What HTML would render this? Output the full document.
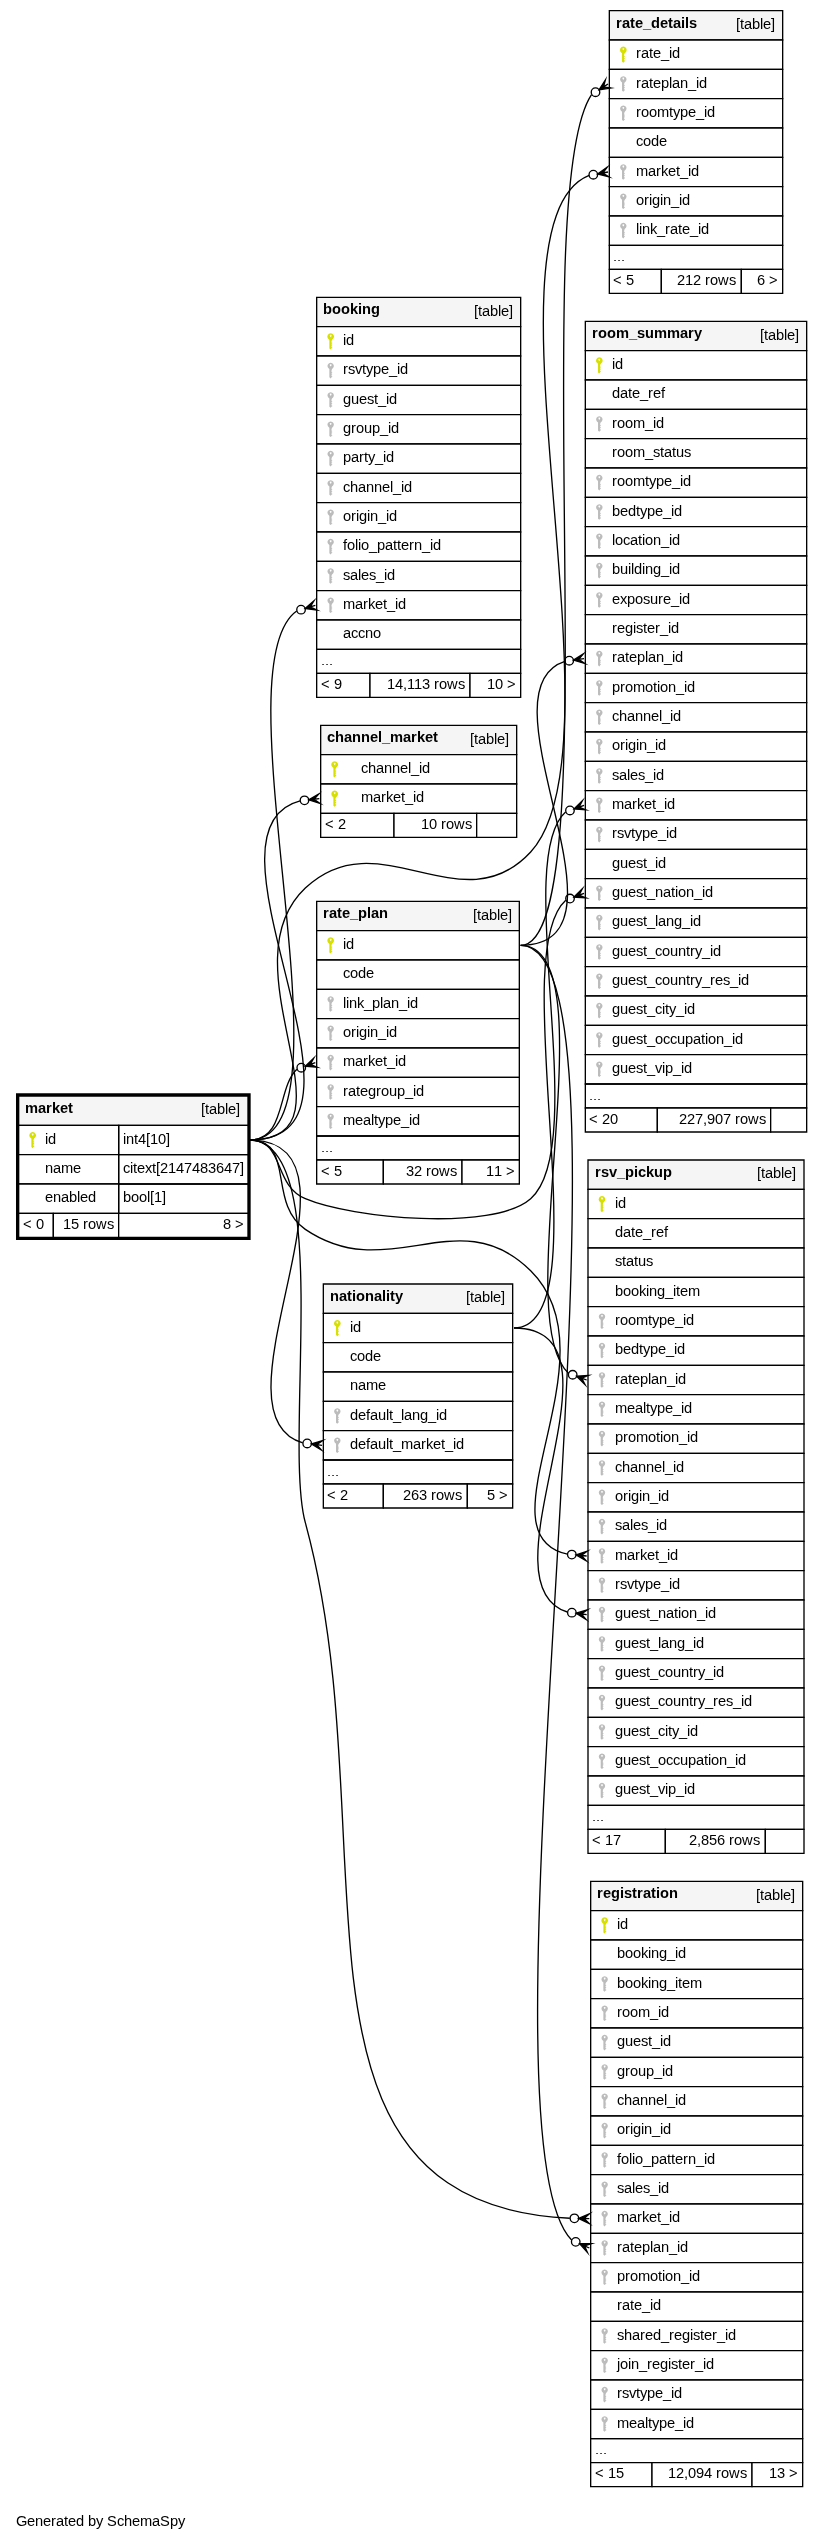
<!DOCTYPE html>
<html><head><meta charset="utf-8"><title>market</title>
<style>
html,body{margin:0;padding:0;background:#fff}
svg{display:block;will-change:transform}
text{font-family:"Liberation Sans",sans-serif;font-size:14.6667px;fill:#000;white-space:pre}
.B{font-weight:bold}
.a{fill:#000;stroke:#000;stroke-width:1.3333;stroke-miterlimit:10}
.b{fill:none;stroke:#000;stroke-width:1.3333}
</style></head><body>
<svg width="823" height="2541" viewBox="0 0 823 2541">
<defs>
<g id="pk"><path fill="#d7e000" fill-rule="evenodd" d="M0,-8.20a3.35,3.35 0 1 1 -0.01,0zM0,-6.65a0.85,0.95 0 1 0 0.01,0z"/><path fill="#d7e000" d="M-1.3,-2.50H1.6L0.85,-0.20V1.26H1.5V2.02H0.85V3.17H1.5V3.94H0.85V5.76H1.55V6.62H0.85V7.10L0.0,8.00L-1.3,6.90Z"/></g>
<g id="fk"><path fill="#bcbcbc" fill-rule="evenodd" d="M0,-8.00a3.20,3.20 0 1 1 -0.01,0zM0,-6.60a0.85,0.95 0 1 0 0.01,0z"/><path fill="#bcbcbc" d="M-1.3,-2.60H1.6L0.85,-0.30V1.20H1.5V1.92H0.85V3.00H1.5V3.73H0.85V5.44H1.55V6.25H0.85V6.70L0.0,7.60L-1.3,6.50Z"/></g>
</defs>
<rect width="823" height="2541" fill="#fff"/>
<polygon fill="#ffffff" points="0,2541.33 0,0 822.67,0 822.67,2541.33 0,2541.33"/>
<text x="16 27 35 43 51 56 64 68 76 84 88 96 103 107 117 124 132 140 152 160 170 178" y="2526">Generated by SchemaSpy</text>
<polygon fill="#ffffff" points="316,697.33 316,297.33 520,297.33 520,697.33 316,697.33"/>
<polygon fill="#f5f5f5" points="316.67,326.67 316.67,297.33 520.67,297.33 520.67,326.67 316.67,326.67"/>
<polygon class="b" points="316.67,326.67 316.67,297.33 520.67,297.33 520.67,326.67 316.67,326.67"/>
<text class="B" x="323 332 341 350 358 362 371" y="314">booking</text>
<text x="474 478 482 490 498 501 509" y="316">[table]</text>
<polygon fill="#ffffff" points="316.67,356 316.67,326.67 520.67,326.67 520.67,356 316.67,356"/>
<polygon class="b" points="316.67,356 316.67,326.67 520.67,326.67 520.67,356 316.67,356"/>
<use href="#pk" x="330.67" y="341.48"/>
<text x="343 346" y="345">id</text>
<polygon fill="#ffffff" points="316.67,385.33 316.67,356 520.67,356 520.67,385.33 316.67,385.33"/>
<polygon class="b" points="316.67,385.33 316.67,356 520.67,356 520.67,385.33 316.67,385.33"/>
<use href="#fk" x="330.67" y="370.82"/>
<text x="343 348 355 362 366 373 381 389 397 400" y="374">rsvtype_id</text>
<polygon fill="#ffffff" points="316.67,414.67 316.67,385.33 520.67,385.33 520.67,414.67 316.67,414.67"/>
<polygon class="b" points="316.67,414.67 316.67,385.33 520.67,385.33 520.67,414.67 316.67,414.67"/>
<use href="#fk" x="330.67" y="400.15"/>
<text x="343 351 359 367 374 378 386 389" y="404">guest_id</text>
<polygon fill="#ffffff" points="316.67,444 316.67,414.67 520.67,414.67 520.67,444 316.67,444"/>
<polygon class="b" points="316.67,444 316.67,414.67 520.67,414.67 520.67,444 316.67,444"/>
<use href="#fk" x="330.67" y="429.48"/>
<text x="343 351 356 364 372 380 388 391" y="433">group_id</text>
<polygon fill="#ffffff" points="316.67,473.33 316.67,444 520.67,444 520.67,473.33 316.67,473.33"/>
<polygon class="b" points="316.67,473.33 316.67,444 520.67,444 520.67,473.33 316.67,473.33"/>
<use href="#fk" x="330.67" y="458.82"/>
<text x="343 351 359 364 368 375 383 386" y="462">party_id</text>
<polygon fill="#ffffff" points="316.67,502.67 316.67,473.33 520.67,473.33 520.67,502.67 316.67,502.67"/>
<polygon class="b" points="316.67,502.67 316.67,473.33 520.67,473.33 520.67,502.67 316.67,502.67"/>
<use href="#fk" x="330.67" y="488.15"/>
<text x="343 350 358 366 374 382 390 393 401 404" y="492">channel_id</text>
<polygon fill="#ffffff" points="316.67,532 316.67,502.67 520.67,502.67 520.67,532 316.67,532"/>
<polygon class="b" points="316.67,532 316.67,502.67 520.67,502.67 520.67,532 316.67,532"/>
<use href="#fk" x="330.67" y="517.48"/>
<text x="343 351 356 359 367 370 378 386 389" y="521">origin_id</text>
<polygon fill="#ffffff" points="316.67,561.33 316.67,532 520.67,532 520.67,561.33 316.67,561.33"/>
<polygon class="b" points="316.67,561.33 316.67,532 520.67,532 520.67,561.33 316.67,561.33"/>
<use href="#fk" x="330.67" y="546.82"/>
<text x="343 347 355 358 361 369 377 385 393 397 401 409 414 422 430 433" y="550">folio_pattern_id</text>
<polygon fill="#ffffff" points="316.67,590.67 316.67,561.33 520.67,561.33 520.67,590.67 316.67,590.67"/>
<polygon class="b" points="316.67,590.67 316.67,561.33 520.67,561.33 520.67,590.67 316.67,590.67"/>
<use href="#fk" x="330.67" y="576.15"/>
<text x="343 350 358 361 369 376 384 387" y="580">sales_id</text>
<polygon fill="#ffffff" points="316.67,620 316.67,590.67 520.67,590.67 520.67,620 316.67,620"/>
<polygon class="b" points="316.67,620 316.67,590.67 520.67,590.67 520.67,620 316.67,620"/>
<use href="#fk" x="330.67" y="605.48"/>
<text x="343 355 363 368 375 383 387 395 398" y="609">market_id</text>
<polygon fill="#ffffff" points="316.67,649.33 316.67,620 520.67,620 520.67,649.33 316.67,649.33"/>
<polygon class="b" points="316.67,649.33 316.67,620 520.67,620 520.67,649.33 316.67,649.33"/>
<text x="343 351 358 365 373" y="638">accno</text>
<polygon class="b" points="316.67,673.33 316.67,649.33 520.67,649.33 520.67,673.33 316.67,673.33"/>
<text transform="translate(0 665) scale(1 0.6)" x="321 325 329" y="0">...</text>
<polygon fill="#ffffff" points="316.67,697.33 316.67,673.33 370,673.33 370,697.33 316.67,697.33"/>
<polygon class="b" points="316.67,697.33 316.67,673.33 370,673.33 370,697.33 316.67,697.33"/>
<text x="321 330 334" y="689">&lt; 9</text>
<polygon fill="#ffffff" points="370,697.33 370,673.33 470,673.33 470,697.33 370,697.33"/>
<polygon class="b" points="370,697.33 370,673.33 470,673.33 470,697.33 370,697.33"/>
<text x="387 395 403 407 414 422 430 434 439 447 458" y="689">14,113 rows</text>
<polygon fill="#ffffff" points="470,697.33 470,673.33 520.67,673.33 520.67,697.33 470,697.33"/>
<polygon class="b" points="470,697.33 470,673.33 520.67,673.33 520.67,697.33 470,697.33"/>
<text x="487 495 503 507" y="689">10 &gt;</text>
<polygon fill="#ffffff" points="16,1240 16,1093.33 250.67,1093.33 250.67,1240 16,1240"/>
<polygon fill="#f5f5f5" points="18.67,1125.33 18.67,1096 248,1096 248,1125.33 18.67,1125.33"/>
<polygon class="b" points="18.67,1125.33 18.67,1096 248,1096 248,1125.33 18.67,1125.33"/>
<text class="B" x="25 38 46 52 60 68" y="1113">market</text>
<text x="201 205 209 217 225 228 236" y="1114">[table]</text>
<polygon fill="#ffffff" points="18.67,1154.67 18.67,1125.33 118.67,1125.33 118.67,1154.67 18.67,1154.67"/>
<polygon class="b" points="18.67,1154.67 18.67,1125.33 118.67,1125.33 118.67,1154.67 18.67,1154.67"/>
<use href="#pk" x="32.67" y="1140.15"/>
<text x="45 48" y="1144">id</text>
<polygon class="b" points="118.67,1154.67 118.67,1125.33 248,1125.33 248,1154.67 118.67,1154.67"/>
<text x="123 126 134 138 146 150 158 166" y="1144">int4[10]</text>
<polygon fill="#ffffff" points="18.67,1184 18.67,1154.67 118.67,1154.67 118.67,1184 18.67,1184"/>
<polygon class="b" points="18.67,1184 18.67,1154.67 118.67,1154.67 118.67,1184 18.67,1184"/>
<text x="45 53 61 73" y="1173">name</text>
<polygon class="b" points="118.67,1184 118.67,1154.67 248,1154.67 248,1184 118.67,1184"/>
<text x="123 130 133 137 145 152 156 160 168 176 184 192 200 208 216 224 232 240" y="1173">citext[2147483647]</text>
<polygon fill="#ffffff" points="18.67,1213.33 18.67,1184 118.67,1184 118.67,1213.33 18.67,1213.33"/>
<polygon class="b" points="18.67,1213.33 18.67,1184 118.67,1184 118.67,1213.33 18.67,1213.33"/>
<text x="45 53 61 69 77 80 88" y="1202">enabled</text>
<polygon class="b" points="118.67,1213.33 118.67,1184 248,1184 248,1213.33 118.67,1213.33"/>
<text x="123 131 139 147 150 154 162" y="1202">bool[1]</text>
<polygon fill="#ffffff" points="18.67,1237.33 18.67,1213.33 53.33,1213.33 53.33,1237.33 18.67,1237.33"/>
<polygon class="b" points="18.67,1237.33 18.67,1213.33 53.33,1213.33 53.33,1237.33 18.67,1237.33"/>
<text x="23 32 36" y="1229">&lt; 0</text>
<polygon fill="#ffffff" points="53.33,1237.33 53.33,1213.33 118.67,1213.33 118.67,1237.33 53.33,1237.33"/>
<polygon class="b" points="53.33,1237.33 53.33,1213.33 118.67,1213.33 118.67,1237.33 53.33,1237.33"/>
<text x="63 71 79 83 88 96 107" y="1229">15 rows</text>
<polygon fill="#ffffff" points="118.67,1237.33 118.67,1213.33 248,1213.33 248,1237.33 118.67,1237.33"/>
<polygon class="b" points="118.67,1237.33 118.67,1213.33 248,1213.33 248,1237.33 118.67,1237.33"/>
<text x="223 231 235" y="1229">8 &gt;</text>
<polygon class="b" style="stroke-width:2.6667" points="17.33,1238.67 17.33,1094.67 249.33,1094.67 249.33,1238.67 17.33,1238.67"/>
<path class="b" d="M296.68,610.97 C215.55,668.12 361.8,1140 249.33,1140"/>
<polygon class="a" points="305.12,608.43 313.95,600.73 310.23,606.88 315.33,605.33 315.33,605.33 315.33,605.33 310.23,606.88 316.72,609.93 305.12,608.43 305.12,608.43"/>
<circle class="b" cx="301.04" cy="609.65" r="4.27"/>
<polygon fill="#ffffff" points="320,837.33 320,725.33 516,725.33 516,837.33 320,837.33"/>
<polygon fill="#f5f5f5" points="320.67,754.67 320.67,725.33 516.67,725.33 516.67,754.67 320.67,754.67"/>
<polygon class="b" points="320.67,754.67 320.67,725.33 516.67,725.33 516.67,754.67 320.67,754.67"/>
<text class="B" x="327 335 344 352 361 370 378 382 390 403 411 417 425 433" y="742">channel_market</text>
<text x="470 474 478 486 494 497 505" y="744">[table]</text>
<polygon fill="#ffffff" points="320.67,784 320.67,754.67 516.67,754.67 516.67,784 320.67,784"/>
<polygon class="b" points="320.67,784 320.67,754.67 516.67,754.67 516.67,784 320.67,784"/>
<use href="#pk" x="334.67" y="769.48"/>
<text x="361 368 376 384 392 400 408 411 419 422" y="773">channel_id</text>
<polygon fill="#ffffff" points="320.67,813.33 320.67,784 516.67,784 516.67,813.33 320.67,813.33"/>
<polygon class="b" points="320.67,813.33 320.67,784 516.67,784 516.67,813.33 320.67,813.33"/>
<use href="#pk" x="334.67" y="798.82"/>
<text x="361 373 381 386 393 401 405 413 416" y="802">market_id</text>
<polygon fill="#ffffff" points="320.67,837.33 320.67,813.33 394,813.33 394,837.33 320.67,837.33"/>
<polygon class="b" points="320.67,837.33 320.67,813.33 394,813.33 394,837.33 320.67,837.33"/>
<text x="325 334 338" y="829">&lt; 2</text>
<polygon fill="#ffffff" points="394,837.33 394,813.33 476.67,813.33 476.67,837.33 394,837.33"/>
<polygon class="b" points="394,837.33 394,813.33 476.67,813.33 476.67,837.33 394,837.33"/>
<text x="421 429 437 441 446 454 465" y="829">10 rows</text>
<polygon fill="#ffffff" points="476.67,837.33 476.67,813.33 516.67,813.33 516.67,837.33 476.67,837.33"/>
<polygon class="b" points="476.67,837.33 476.67,813.33 516.67,813.33 516.67,837.33 476.67,837.33"/>
<text x="503 507" y="829">  </text>
<path class="b" d="M300.08,800.84 C186.08,829.92 396.93,1140 249.33,1140"/>
<polygon class="a" points="308.73,799.87 318.8,793.89 314.04,799.27 319.33,798.67 319.33,798.67 319.33,798.67 314.04,799.27 319.87,803.44 308.73,799.87 308.73,799.87"/>
<circle class="b" cx="304.49" cy="800.35" r="4.27"/>
<polygon fill="#ffffff" points="323.33,1508 323.33,1284 512.67,1284 512.67,1508 323.33,1508"/>
<polygon fill="#f5f5f5" points="323.33,1313.33 323.33,1284 512.67,1284 512.67,1313.33 323.33,1313.33"/>
<polygon class="b" points="323.33,1313.33 323.33,1284 512.67,1284 512.67,1313.33 323.33,1313.33"/>
<text class="B" x="330 339 347 352 356 365 374 382 386 390 395" y="1301">nationality</text>
<text x="466 470 474 482 490 493 501" y="1302">[table]</text>
<polygon fill="#ffffff" points="323.33,1342.67 323.33,1313.33 512.67,1313.33 512.67,1342.67 323.33,1342.67"/>
<polygon class="b" points="323.33,1342.67 323.33,1313.33 512.67,1313.33 512.67,1342.67 323.33,1342.67"/>
<use href="#pk" x="337.33" y="1328.15"/>
<text x="350 353" y="1332">id</text>
<polygon fill="#ffffff" points="323.33,1372 323.33,1342.67 512.67,1342.67 512.67,1372 323.33,1372"/>
<polygon class="b" points="323.33,1372 323.33,1342.67 512.67,1342.67 512.67,1372 323.33,1372"/>
<text x="350 357 365 373" y="1361">code</text>
<polygon fill="#ffffff" points="323.33,1401.33 323.33,1372 512.67,1372 512.67,1401.33 323.33,1401.33"/>
<polygon class="b" points="323.33,1401.33 323.33,1372 512.67,1372 512.67,1401.33 323.33,1401.33"/>
<text x="350 358 366 378" y="1390">name</text>
<polygon fill="#ffffff" points="323.33,1430.67 323.33,1401.33 512.67,1401.33 512.67,1430.67 323.33,1430.67"/>
<polygon class="b" points="323.33,1430.67 323.33,1401.33 512.67,1401.33 512.67,1430.67 323.33,1430.67"/>
<use href="#fk" x="337.33" y="1416.15"/>
<text x="350 358 366 370 378 386 389 393 401 404 412 420 428 436 439" y="1420">default_lang_id</text>
<polygon fill="#ffffff" points="323.33,1460 323.33,1430.67 512.67,1430.67 512.67,1460 323.33,1460"/>
<polygon class="b" points="323.33,1460 323.33,1430.67 512.67,1430.67 512.67,1460 323.33,1460"/>
<use href="#fk" x="337.33" y="1445.48"/>
<text x="350 358 366 370 378 386 389 393 401 413 421 426 433 441 445 453 456" y="1449">default_market_id</text>
<polygon class="b" points="323.33,1484 323.33,1460 512.67,1460 512.67,1484 323.33,1484"/>
<text transform="translate(0 1476) scale(1 0.6)" x="327 331 335" y="0">...</text>
<polygon fill="#ffffff" points="323.33,1508 323.33,1484 383.33,1484 383.33,1508 323.33,1508"/>
<polygon class="b" points="323.33,1508 323.33,1484 383.33,1484 383.33,1508 323.33,1508"/>
<text x="327 336 340" y="1500">&lt; 2</text>
<polygon fill="#ffffff" points="383.33,1508 383.33,1484 467.33,1484 467.33,1508 383.33,1508"/>
<polygon class="b" points="383.33,1508 383.33,1484 467.33,1484 467.33,1508 383.33,1508"/>
<text x="403 411 419 427 431 436 444 455" y="1500">263 rows</text>
<polygon fill="#ffffff" points="467.33,1508 467.33,1484 512.67,1484 512.67,1508 467.33,1508"/>
<polygon class="b" points="467.33,1508 467.33,1484 512.67,1484 512.67,1508 467.33,1508"/>
<text x="487 495 499" y="1500">5 &gt;</text>
<path class="b" d="M302.72,1442.88 C203.31,1413.97 381.47,1140 249.33,1140"/>
<polygon class="a" points="311.41,1443.99 322.61,1440.57 316.71,1444.65 322,1445.33 322,1445.33 322,1445.33 316.71,1444.65 321.39,1450.09 311.41,1443.99 311.41,1443.99"/>
<circle class="b" cx="307.19" cy="1443.44" r="4.27"/>
<polygon fill="#ffffff" points="609.33,293.33 609.33,10.67 782.67,10.67 782.67,293.33 609.33,293.33"/>
<polygon fill="#f5f5f5" points="609.33,40 609.33,10.67 782.67,10.67 782.67,40 609.33,40"/>
<polygon class="b" points="609.33,40 609.33,10.67 782.67,10.67 782.67,40 609.33,40"/>
<text class="B" x="616 622 630 635 643 651 660 668 673 681 685 689" y="28">rate_details</text>
<text x="736 740 744 752 760 763 771" y="29">[table]</text>
<polygon fill="#ffffff" points="609.33,69.33 609.33,40 782.67,40 782.67,69.33 609.33,69.33"/>
<polygon class="b" points="609.33,69.33 609.33,40 782.67,40 782.67,69.33 609.33,69.33"/>
<use href="#pk" x="623.33" y="54.82"/>
<text x="636 641 649 653 661 669 672" y="58">rate_id</text>
<polygon fill="#ffffff" points="609.33,98.67 609.33,69.33 782.67,69.33 782.67,98.67 609.33,98.67"/>
<polygon class="b" points="609.33,98.67 609.33,69.33 782.67,69.33 782.67,98.67 609.33,98.67"/>
<use href="#fk" x="623.33" y="84.15"/>
<text x="636 641 649 653 661 669 672 680 688 696 699" y="88">rateplan_id</text>
<polygon fill="#ffffff" points="609.33,128 609.33,98.67 782.67,98.67 782.67,128 609.33,128"/>
<polygon class="b" points="609.33,128 609.33,98.67 782.67,98.67 782.67,128 609.33,128"/>
<use href="#fk" x="623.33" y="113.48"/>
<text x="636 641 649 657 669 673 680 688 696 704 707" y="117">roomtype_id</text>
<polygon fill="#ffffff" points="609.33,157.33 609.33,128 782.67,128 782.67,157.33 609.33,157.33"/>
<polygon class="b" points="609.33,157.33 609.33,128 782.67,128 782.67,157.33 609.33,157.33"/>
<text x="636 643 651 659" y="146">code</text>
<polygon fill="#ffffff" points="609.33,186.67 609.33,157.33 782.67,157.33 782.67,186.67 609.33,186.67"/>
<polygon class="b" points="609.33,186.67 609.33,157.33 782.67,157.33 782.67,186.67 609.33,186.67"/>
<use href="#fk" x="623.33" y="172.15"/>
<text x="636 648 656 661 668 676 680 688 691" y="176">market_id</text>
<polygon fill="#ffffff" points="609.33,216 609.33,186.67 782.67,186.67 782.67,216 609.33,216"/>
<polygon class="b" points="609.33,216 609.33,186.67 782.67,186.67 782.67,216 609.33,216"/>
<use href="#fk" x="623.33" y="201.48"/>
<text x="636 644 649 652 660 663 671 679 682" y="205">origin_id</text>
<polygon fill="#ffffff" points="609.33,245.33 609.33,216 782.67,216 782.67,245.33 609.33,245.33"/>
<polygon class="b" points="609.33,245.33 609.33,216 782.67,216 782.67,245.33 609.33,245.33"/>
<use href="#fk" x="623.33" y="230.82"/>
<text x="636 639 642 650 657 665 670 678 682 690 698 701" y="234">link_rate_id</text>
<polygon class="b" points="609.33,269.33 609.33,245.33 782.67,245.33 782.67,269.33 609.33,269.33"/>
<text transform="translate(0 261) scale(1 0.6)" x="613 617 621" y="0">...</text>
<polygon fill="#ffffff" points="609.33,293.33 609.33,269.33 661.33,269.33 661.33,293.33 609.33,293.33"/>
<polygon class="b" points="609.33,293.33 609.33,269.33 661.33,269.33 661.33,293.33 609.33,293.33"/>
<text x="613 622 626" y="285">&lt; 5</text>
<polygon fill="#ffffff" points="661.33,293.33 661.33,269.33 741.33,269.33 741.33,293.33 661.33,293.33"/>
<polygon class="b" points="661.33,293.33 661.33,269.33 741.33,269.33 741.33,293.33 661.33,293.33"/>
<text x="677 685 693 701 705 710 718 729" y="285">212 rows</text>
<polygon fill="#ffffff" points="741.33,293.33 741.33,269.33 782.67,269.33 782.67,293.33 741.33,293.33"/>
<polygon class="b" points="741.33,293.33 741.33,269.33 782.67,269.33 782.67,293.33 741.33,293.33"/>
<text x="757 765 769" y="285">6 &gt;</text>
<path class="b" d="M589.08,175.49 C471.67,223.21 629.2,745.48 530.67,852 461.8,926.45 379.17,818.48 305.33,888 221.8,966.65 364.07,1140 249.33,1140"/>
<polygon class="a" points="597.51,173.93 607.13,167.28 602.76,172.97 608,172 608,172 608,172 602.76,172.97 608.87,176.72 597.51,173.93 597.51,173.93"/>
<circle class="b" cx="593.32" cy="174.71" r="4.27"/>
<polygon fill="#ffffff" points="316.67,1184 316.67,901.33 519.33,901.33 519.33,1184 316.67,1184"/>
<polygon fill="#f5f5f5" points="316.67,930.67 316.67,901.33 519.33,901.33 519.33,930.67 316.67,930.67"/>
<polygon class="b" points="316.67,930.67 316.67,901.33 519.33,901.33 519.33,930.67 316.67,930.67"/>
<text class="B" x="323 329 337 342 350 358 367 371 379" y="918">rate_plan</text>
<text x="473 477 481 489 497 500 508" y="920">[table]</text>
<polygon fill="#ffffff" points="316.67,960 316.67,930.67 519.33,930.67 519.33,960 316.67,960"/>
<polygon class="b" points="316.67,960 316.67,930.67 519.33,930.67 519.33,960 316.67,960"/>
<use href="#pk" x="330.67" y="945.48"/>
<text x="343 346" y="949">id</text>
<polygon fill="#ffffff" points="316.67,989.33 316.67,960 519.33,960 519.33,989.33 316.67,989.33"/>
<polygon class="b" points="316.67,989.33 316.67,960 519.33,960 519.33,989.33 316.67,989.33"/>
<text x="343 350 358 366" y="978">code</text>
<polygon fill="#ffffff" points="316.67,1018.67 316.67,989.33 519.33,989.33 519.33,1018.67 316.67,1018.67"/>
<polygon class="b" points="316.67,1018.67 316.67,989.33 519.33,989.33 519.33,1018.67 316.67,1018.67"/>
<use href="#fk" x="330.67" y="1004.15"/>
<text x="343 346 349 357 364 372 380 383 391 399 407 410" y="1008">link_plan_id</text>
<polygon fill="#ffffff" points="316.67,1048 316.67,1018.67 519.33,1018.67 519.33,1048 316.67,1048"/>
<polygon class="b" points="316.67,1048 316.67,1018.67 519.33,1018.67 519.33,1048 316.67,1048"/>
<use href="#fk" x="330.67" y="1033.48"/>
<text x="343 351 356 359 367 370 378 386 389" y="1037">origin_id</text>
<polygon fill="#ffffff" points="316.67,1077.33 316.67,1048 519.33,1048 519.33,1077.33 316.67,1077.33"/>
<polygon class="b" points="316.67,1077.33 316.67,1048 519.33,1048 519.33,1077.33 316.67,1077.33"/>
<use href="#fk" x="330.67" y="1062.82"/>
<text x="343 355 363 368 375 383 387 395 398" y="1066">market_id</text>
<polygon fill="#ffffff" points="316.67,1106.67 316.67,1077.33 519.33,1077.33 519.33,1106.67 316.67,1106.67"/>
<polygon class="b" points="316.67,1106.67 316.67,1077.33 519.33,1077.33 519.33,1106.67 316.67,1106.67"/>
<use href="#fk" x="330.67" y="1092.15"/>
<text x="343 348 356 360 368 376 381 389 397 405 413 416" y="1096">rategroup_id</text>
<polygon fill="#ffffff" points="316.67,1136 316.67,1106.67 519.33,1106.67 519.33,1136 316.67,1136"/>
<polygon class="b" points="316.67,1136 316.67,1106.67 519.33,1106.67 519.33,1136 316.67,1136"/>
<use href="#fk" x="330.67" y="1121.48"/>
<text x="343 355 363 371 374 378 385 393 401 409 412" y="1125">mealtype_id</text>
<polygon class="b" points="316.67,1160 316.67,1136 519.33,1136 519.33,1160 316.67,1160"/>
<text transform="translate(0 1152) scale(1 0.6)" x="321 325 329" y="0">...</text>
<polygon fill="#ffffff" points="316.67,1184 316.67,1160 383.33,1160 383.33,1184 316.67,1184"/>
<polygon class="b" points="316.67,1184 316.67,1160 383.33,1160 383.33,1184 316.67,1184"/>
<text x="321 330 334" y="1176">&lt; 5</text>
<polygon fill="#ffffff" points="383.33,1184 383.33,1160 462,1160 462,1184 383.33,1184"/>
<polygon class="b" points="383.33,1184 383.33,1160 462,1160 462,1184 383.33,1184"/>
<text x="406 414 422 426 431 439 450" y="1176">32 rows</text>
<polygon fill="#ffffff" points="462,1184 462,1160 519.33,1160 519.33,1184 462,1184"/>
<polygon class="b" points="462,1184 462,1160 519.33,1160 519.33,1184 462,1184"/>
<text x="486 494 502 506" y="1176">11 &gt;</text>
<path class="b" d="M591.39,94.89 C524.87,194.6 610.47,945.33 520.67,945.33"/>
<polygon class="a" points="599.08,89.84 605.37,79.99 603.53,86.92 608,84 608,84 608,84 603.53,86.92 610.63,88.01 599.08,89.84 599.08,89.84"/>
<circle class="b" cx="595.51" cy="92.19" r="4.27"/>
<path class="b" d="M296.91,1069.27 C276.67,1087.96 286.4,1140 249.33,1140"/>
<polygon class="a" points="305.29,1066.27 313.72,1058.15 310.31,1064.47 315.33,1062.67 315.33,1062.67 315.33,1062.67 310.31,1064.47 316.95,1067.19 305.29,1066.27 305.29,1066.27"/>
<circle class="b" cx="301.27" cy="1067.69" r="4.27"/>
<polygon fill="#ffffff" points="590,2486.67 590,1881.33 802,1881.33 802,2486.67 590,2486.67"/>
<polygon fill="#f5f5f5" points="590.67,1910.67 590.67,1881.33 802.67,1881.33 802.67,1910.67 590.67,1910.67"/>
<polygon class="b" points="590.67,1910.67 590.67,1881.33 802.67,1881.33 802.67,1910.67 590.67,1910.67"/>
<text class="B" x="597 603 611 620 624 632 637 643 651 656 660 669" y="1898">registration</text>
<text x="756 760 764 772 780 783 791" y="1900">[table]</text>
<polygon fill="#ffffff" points="590.67,1940 590.67,1910.67 802.67,1910.67 802.67,1940 590.67,1940"/>
<polygon class="b" points="590.67,1940 590.67,1910.67 802.67,1910.67 802.67,1940 590.67,1940"/>
<use href="#pk" x="604.67" y="1925.48"/>
<text x="617 620" y="1929">id</text>
<polygon fill="#ffffff" points="590.67,1969.33 590.67,1940 802.67,1940 802.67,1969.33 590.67,1969.33"/>
<polygon class="b" points="590.67,1969.33 590.67,1940 802.67,1940 802.67,1969.33 590.67,1969.33"/>
<text x="617 625 633 641 648 651 659 667 675 678" y="1958">booking_id</text>
<polygon fill="#ffffff" points="590.67,1998.67 590.67,1969.33 802.67,1969.33 802.67,1998.67 590.67,1998.67"/>
<polygon class="b" points="590.67,1998.67 590.67,1969.33 802.67,1969.33 802.67,1998.67 590.67,1998.67"/>
<use href="#fk" x="604.67" y="1984.15"/>
<text x="617 625 633 641 648 651 659 667 675 678 682 690" y="1988">booking_item</text>
<polygon fill="#ffffff" points="590.67,2028 590.67,1998.67 802.67,1998.67 802.67,2028 590.67,2028"/>
<polygon class="b" points="590.67,2028 590.67,1998.67 802.67,1998.67 802.67,2028 590.67,2028"/>
<use href="#fk" x="604.67" y="2013.48"/>
<text x="617 622 630 638 650 658 661" y="2017">room_id</text>
<polygon fill="#ffffff" points="590.67,2057.33 590.67,2028 802.67,2028 802.67,2057.33 590.67,2057.33"/>
<polygon class="b" points="590.67,2057.33 590.67,2028 802.67,2028 802.67,2057.33 590.67,2057.33"/>
<use href="#fk" x="604.67" y="2042.82"/>
<text x="617 625 633 641 648 652 660 663" y="2046">guest_id</text>
<polygon fill="#ffffff" points="590.67,2086.67 590.67,2057.33 802.67,2057.33 802.67,2086.67 590.67,2086.67"/>
<polygon class="b" points="590.67,2086.67 590.67,2057.33 802.67,2057.33 802.67,2086.67 590.67,2086.67"/>
<use href="#fk" x="604.67" y="2072.15"/>
<text x="617 625 630 638 646 654 662 665" y="2076">group_id</text>
<polygon fill="#ffffff" points="590.67,2116 590.67,2086.67 802.67,2086.67 802.67,2116 590.67,2116"/>
<polygon class="b" points="590.67,2116 590.67,2086.67 802.67,2086.67 802.67,2116 590.67,2116"/>
<use href="#fk" x="604.67" y="2101.48"/>
<text x="617 624 632 640 648 656 664 667 675 678" y="2105">channel_id</text>
<polygon fill="#ffffff" points="590.67,2145.33 590.67,2116 802.67,2116 802.67,2145.33 590.67,2145.33"/>
<polygon class="b" points="590.67,2145.33 590.67,2116 802.67,2116 802.67,2145.33 590.67,2145.33"/>
<use href="#fk" x="604.67" y="2130.82"/>
<text x="617 625 630 633 641 644 652 660 663" y="2134">origin_id</text>
<polygon fill="#ffffff" points="590.67,2174.67 590.67,2145.33 802.67,2145.33 802.67,2174.67 590.67,2174.67"/>
<polygon class="b" points="590.67,2174.67 590.67,2145.33 802.67,2145.33 802.67,2174.67 590.67,2174.67"/>
<use href="#fk" x="604.67" y="2160.15"/>
<text x="617 621 629 632 635 643 651 659 667 671 675 683 688 696 704 707" y="2164">folio_pattern_id</text>
<polygon fill="#ffffff" points="590.67,2204 590.67,2174.67 802.67,2174.67 802.67,2204 590.67,2204"/>
<polygon class="b" points="590.67,2204 590.67,2174.67 802.67,2174.67 802.67,2204 590.67,2204"/>
<use href="#fk" x="604.67" y="2189.48"/>
<text x="617 624 632 635 643 650 658 661" y="2193">sales_id</text>
<polygon fill="#ffffff" points="590.67,2233.33 590.67,2204 802.67,2204 802.67,2233.33 590.67,2233.33"/>
<polygon class="b" points="590.67,2233.33 590.67,2204 802.67,2204 802.67,2233.33 590.67,2233.33"/>
<use href="#fk" x="604.67" y="2218.82"/>
<text x="617 629 637 642 649 657 661 669 672" y="2222">market_id</text>
<polygon fill="#ffffff" points="590.67,2262.67 590.67,2233.33 802.67,2233.33 802.67,2262.67 590.67,2262.67"/>
<polygon class="b" points="590.67,2262.67 590.67,2233.33 802.67,2233.33 802.67,2262.67 590.67,2262.67"/>
<use href="#fk" x="604.67" y="2248.15"/>
<text x="617 622 630 634 642 650 653 661 669 677 680" y="2252">rateplan_id</text>
<polygon fill="#ffffff" points="590.67,2292 590.67,2262.67 802.67,2262.67 802.67,2292 590.67,2292"/>
<polygon class="b" points="590.67,2292 590.67,2262.67 802.67,2262.67 802.67,2292 590.67,2292"/>
<use href="#fk" x="604.67" y="2277.48"/>
<text x="617 625 630 638 650 658 662 665 673 681 689 692" y="2281">promotion_id</text>
<polygon fill="#ffffff" points="590.67,2321.33 590.67,2292 802.67,2292 802.67,2321.33 590.67,2321.33"/>
<polygon class="b" points="590.67,2321.33 590.67,2292 802.67,2292 802.67,2321.33 590.67,2321.33"/>
<text x="617 622 630 634 642 650 653" y="2310">rate_id</text>
<polygon fill="#ffffff" points="590.67,2350.67 590.67,2321.33 802.67,2321.33 802.67,2350.67 590.67,2350.67"/>
<polygon class="b" points="590.67,2350.67 590.67,2321.33 802.67,2321.33 802.67,2350.67 590.67,2350.67"/>
<use href="#fk" x="604.67" y="2336.15"/>
<text x="617 624 632 640 645 653 661 669 674 682 690 693 700 704 712 717 725 728" y="2340">shared_register_id</text>
<polygon fill="#ffffff" points="590.67,2380 590.67,2350.67 802.67,2350.67 802.67,2380 590.67,2380"/>
<polygon class="b" points="590.67,2380 590.67,2350.67 802.67,2350.67 802.67,2380 590.67,2380"/>
<use href="#fk" x="604.67" y="2365.48"/>
<text x="617 620 628 631 639 647 652 660 668 671 678 682 690 695 703 706" y="2369">join_register_id</text>
<polygon fill="#ffffff" points="590.67,2409.33 590.67,2380 802.67,2380 802.67,2409.33 590.67,2409.33"/>
<polygon class="b" points="590.67,2409.33 590.67,2380 802.67,2380 802.67,2409.33 590.67,2409.33"/>
<use href="#fk" x="604.67" y="2394.82"/>
<text x="617 622 629 636 640 647 655 663 671 674" y="2398">rsvtype_id</text>
<polygon fill="#ffffff" points="590.67,2438.67 590.67,2409.33 802.67,2409.33 802.67,2438.67 590.67,2438.67"/>
<polygon class="b" points="590.67,2438.67 590.67,2409.33 802.67,2409.33 802.67,2438.67 590.67,2438.67"/>
<use href="#fk" x="604.67" y="2424.15"/>
<text x="617 629 637 645 648 652 659 667 675 683 686" y="2428">mealtype_id</text>
<polygon class="b" points="590.67,2462.67 590.67,2438.67 802.67,2438.67 802.67,2462.67 590.67,2462.67"/>
<text transform="translate(0 2454) scale(1 0.6)" x="595 599 603" y="0">...</text>
<polygon fill="#ffffff" points="590.67,2486.67 590.67,2462.67 652,2462.67 652,2486.67 590.67,2486.67"/>
<polygon class="b" points="590.67,2486.67 590.67,2462.67 652,2462.67 652,2486.67 590.67,2486.67"/>
<text x="595 604 608 616" y="2478">&lt; 15</text>
<polygon fill="#ffffff" points="652,2486.67 652,2462.67 752,2462.67 752,2486.67 652,2486.67"/>
<polygon class="b" points="652,2486.67 652,2462.67 752,2462.67 752,2486.67 652,2486.67"/>
<text x="668 676 684 688 696 704 712 716 721 729 740" y="2478">12,094 rows</text>
<polygon fill="#ffffff" points="752,2486.67 752,2462.67 802.67,2462.67 802.67,2486.67 752,2486.67"/>
<polygon class="b" points="752,2486.67 752,2462.67 802.67,2462.67 802.67,2486.67 752,2486.67"/>
<text x="769 777 785 789" y="2478">13 &gt;</text>
<path class="b" d="M569.83,2218.23 C260.68,2203.72 391.52,1838.52 305.33,1522.67 282.71,1439.76 335.28,1140 249.33,1140"/>
<polygon class="a" points="578.67,2218.43 589.44,2213.87 584,2218.55 589.33,2218.67 589.33,2218.67 589.33,2218.67 584,2218.55 589.23,2223.47 578.67,2218.43 578.67,2218.43"/>
<circle class="b" cx="574.4" cy="2218.32" r="4.27"/>
<path class="b" d="M571.61,2240.01 C463.93,2131.16 658.96,945.33 520.67,945.33"/>
<polygon class="a" points="579.61,2243.61 591.31,2243.63 584.47,2245.81 589.33,2248 589.33,2248 589.33,2248 584.47,2245.81 587.36,2252.37 579.61,2243.61 579.61,2243.61"/>
<circle class="b" cx="575.72" cy="2241.87" r="4.27"/>
<polygon fill="#ffffff" points="585.33,1132 585.33,321.33 806.67,321.33 806.67,1132 585.33,1132"/>
<polygon fill="#f5f5f5" points="585.33,350.67 585.33,321.33 806.67,321.33 806.67,350.67 585.33,350.67"/>
<polygon class="b" points="585.33,350.67 585.33,321.33 806.67,321.33 806.67,350.67 585.33,350.67"/>
<text class="B" x="592 598 607 616 629 637 645 654 667 680 688 694" y="338">room_summary</text>
<text x="760 764 768 776 784 787 795" y="340">[table]</text>
<polygon fill="#ffffff" points="585.33,380 585.33,350.67 806.67,350.67 806.67,380 585.33,380"/>
<polygon class="b" points="585.33,380 585.33,350.67 806.67,350.67 806.67,380 585.33,380"/>
<use href="#pk" x="599.33" y="365.48"/>
<text x="612 615" y="369">id</text>
<polygon fill="#ffffff" points="585.33,409.33 585.33,380 806.67,380 806.67,409.33 585.33,409.33"/>
<polygon class="b" points="585.33,409.33 585.33,380 806.67,380 806.67,409.33 585.33,409.33"/>
<text x="612 620 628 632 640 648 653 661" y="398">date_ref</text>
<polygon fill="#ffffff" points="585.33,438.67 585.33,409.33 806.67,409.33 806.67,438.67 585.33,438.67"/>
<polygon class="b" points="585.33,438.67 585.33,409.33 806.67,409.33 806.67,438.67 585.33,438.67"/>
<use href="#fk" x="599.33" y="424.15"/>
<text x="612 617 625 633 645 653 656" y="428">room_id</text>
<polygon fill="#ffffff" points="585.33,468 585.33,438.67 806.67,438.67 806.67,468 585.33,468"/>
<polygon class="b" points="585.33,468 585.33,438.67 806.67,438.67 806.67,468 585.33,468"/>
<text x="612 617 625 633 645 653 660 664 672 676 684" y="457">room_status</text>
<polygon fill="#ffffff" points="585.33,497.33 585.33,468 806.67,468 806.67,497.33 585.33,497.33"/>
<polygon class="b" points="585.33,497.33 585.33,468 806.67,468 806.67,497.33 585.33,497.33"/>
<use href="#fk" x="599.33" y="482.82"/>
<text x="612 617 625 633 645 649 656 664 672 680 683" y="486">roomtype_id</text>
<polygon fill="#ffffff" points="585.33,526.67 585.33,497.33 806.67,497.33 806.67,526.67 585.33,526.67"/>
<polygon class="b" points="585.33,526.67 585.33,497.33 806.67,497.33 806.67,526.67 585.33,526.67"/>
<use href="#fk" x="599.33" y="512.15"/>
<text x="612 620 628 636 640 647 655 663 671 674" y="516">bedtype_id</text>
<polygon fill="#ffffff" points="585.33,556 585.33,526.67 806.67,526.67 806.67,556 585.33,556"/>
<polygon class="b" points="585.33,556 585.33,526.67 806.67,526.67 806.67,556 585.33,556"/>
<use href="#fk" x="599.33" y="541.48"/>
<text x="612 615 623 630 638 642 645 653 661 669 672" y="545">location_id</text>
<polygon fill="#ffffff" points="585.33,585.33 585.33,556 806.67,556 806.67,585.33 585.33,585.33"/>
<polygon class="b" points="585.33,585.33 585.33,556 806.67,556 806.67,585.33 585.33,585.33"/>
<use href="#fk" x="599.33" y="570.82"/>
<text x="612 620 628 631 634 642 645 653 661 669 672" y="574">building_id</text>
<polygon fill="#ffffff" points="585.33,614.67 585.33,585.33 806.67,585.33 806.67,614.67 585.33,614.67"/>
<polygon class="b" points="585.33,614.67 585.33,585.33 806.67,585.33 806.67,614.67 585.33,614.67"/>
<use href="#fk" x="599.33" y="600.15"/>
<text x="612 620 627 635 643 650 658 663 671 679 682" y="604">exposure_id</text>
<polygon fill="#ffffff" points="585.33,644 585.33,614.67 806.67,614.67 806.67,644 585.33,644"/>
<polygon class="b" points="585.33,644 585.33,614.67 806.67,614.67 806.67,644 585.33,644"/>
<text x="612 617 625 633 636 643 647 655 660 668 671" y="633">register_id</text>
<polygon fill="#ffffff" points="585.33,673.33 585.33,644 806.67,644 806.67,673.33 585.33,673.33"/>
<polygon class="b" points="585.33,673.33 585.33,644 806.67,644 806.67,673.33 585.33,673.33"/>
<use href="#fk" x="599.33" y="658.82"/>
<text x="612 617 625 629 637 645 648 656 664 672 675" y="662">rateplan_id</text>
<polygon fill="#ffffff" points="585.33,702.67 585.33,673.33 806.67,673.33 806.67,702.67 585.33,702.67"/>
<polygon class="b" points="585.33,702.67 585.33,673.33 806.67,673.33 806.67,702.67 585.33,702.67"/>
<use href="#fk" x="599.33" y="688.15"/>
<text x="612 620 625 633 645 653 657 660 668 676 684 687" y="692">promotion_id</text>
<polygon fill="#ffffff" points="585.33,732 585.33,702.67 806.67,702.67 806.67,732 585.33,732"/>
<polygon class="b" points="585.33,732 585.33,702.67 806.67,702.67 806.67,732 585.33,732"/>
<use href="#fk" x="599.33" y="717.48"/>
<text x="612 619 627 635 643 651 659 662 670 673" y="721">channel_id</text>
<polygon fill="#ffffff" points="585.33,761.33 585.33,732 806.67,732 806.67,761.33 585.33,761.33"/>
<polygon class="b" points="585.33,761.33 585.33,732 806.67,732 806.67,761.33 585.33,761.33"/>
<use href="#fk" x="599.33" y="746.82"/>
<text x="612 620 625 628 636 639 647 655 658" y="750">origin_id</text>
<polygon fill="#ffffff" points="585.33,790.67 585.33,761.33 806.67,761.33 806.67,790.67 585.33,790.67"/>
<polygon class="b" points="585.33,790.67 585.33,761.33 806.67,761.33 806.67,790.67 585.33,790.67"/>
<use href="#fk" x="599.33" y="776.15"/>
<text x="612 619 627 630 638 645 653 656" y="780">sales_id</text>
<polygon fill="#ffffff" points="585.33,820 585.33,790.67 806.67,790.67 806.67,820 585.33,820"/>
<polygon class="b" points="585.33,820 585.33,790.67 806.67,790.67 806.67,820 585.33,820"/>
<use href="#fk" x="599.33" y="805.48"/>
<text x="612 624 632 637 644 652 656 664 667" y="809">market_id</text>
<polygon fill="#ffffff" points="585.33,849.33 585.33,820 806.67,820 806.67,849.33 585.33,849.33"/>
<polygon class="b" points="585.33,849.33 585.33,820 806.67,820 806.67,849.33 585.33,849.33"/>
<use href="#fk" x="599.33" y="834.82"/>
<text x="612 617 624 631 635 642 650 658 666 669" y="838">rsvtype_id</text>
<polygon fill="#ffffff" points="585.33,878.67 585.33,849.33 806.67,849.33 806.67,878.67 585.33,878.67"/>
<polygon class="b" points="585.33,878.67 585.33,849.33 806.67,849.33 806.67,878.67 585.33,878.67"/>
<text x="612 620 628 636 643 647 655 658" y="868">guest_id</text>
<polygon fill="#ffffff" points="585.33,908 585.33,878.67 806.67,878.67 806.67,908 585.33,908"/>
<polygon class="b" points="585.33,908 585.33,878.67 806.67,878.67 806.67,908 585.33,908"/>
<use href="#fk" x="599.33" y="893.48"/>
<text x="612 620 628 636 643 647 655 663 671 675 678 686 694 702 705" y="897">guest_nation_id</text>
<polygon fill="#ffffff" points="585.33,937.33 585.33,908 806.67,908 806.67,937.33 585.33,937.33"/>
<polygon class="b" points="585.33,937.33 585.33,908 806.67,908 806.67,937.33 585.33,937.33"/>
<use href="#fk" x="599.33" y="922.82"/>
<text x="612 620 628 636 643 647 655 658 666 674 682 690 693" y="926">guest_lang_id</text>
<polygon fill="#ffffff" points="585.33,966.67 585.33,937.33 806.67,937.33 806.67,966.67 585.33,966.67"/>
<polygon class="b" points="585.33,966.67 585.33,937.33 806.67,937.33 806.67,966.67 585.33,966.67"/>
<use href="#fk" x="599.33" y="952.15"/>
<text x="612 620 628 636 643 647 655 662 670 678 686 690 695 702 710 713" y="956">guest_country_id</text>
<polygon fill="#ffffff" points="585.33,996 585.33,966.67 806.67,966.67 806.67,996 585.33,996"/>
<polygon class="b" points="585.33,996 585.33,966.67 806.67,966.67 806.67,996 585.33,996"/>
<use href="#fk" x="599.33" y="981.48"/>
<text x="612 620 628 636 643 647 655 662 670 678 686 690 695 702 710 715 723 730 738 741" y="985">guest_country_res_id</text>
<polygon fill="#ffffff" points="585.33,1025.33 585.33,996 806.67,996 806.67,1025.33 585.33,1025.33"/>
<polygon class="b" points="585.33,1025.33 585.33,996 806.67,996 806.67,1025.33 585.33,1025.33"/>
<use href="#fk" x="599.33" y="1010.82"/>
<text x="612 620 628 636 643 647 655 662 665 669 676 684 687" y="1014">guest_city_id</text>
<polygon fill="#ffffff" points="585.33,1054.67 585.33,1025.33 806.67,1025.33 806.67,1054.67 585.33,1054.67"/>
<polygon class="b" points="585.33,1054.67 585.33,1025.33 806.67,1025.33 806.67,1054.67 585.33,1054.67"/>
<use href="#fk" x="599.33" y="1040.15"/>
<text x="612 620 628 636 643 647 655 663 670 677 685 693 701 705 708 716 724 732 735" y="1044">guest_occupation_id</text>
<polygon fill="#ffffff" points="585.33,1084 585.33,1054.67 806.67,1054.67 806.67,1084 585.33,1084"/>
<polygon class="b" points="585.33,1084 585.33,1054.67 806.67,1054.67 806.67,1084 585.33,1084"/>
<use href="#fk" x="599.33" y="1069.48"/>
<text x="612 620 628 636 643 647 655 662 665 673 681 684" y="1073">guest_vip_id</text>
<polygon class="b" points="585.33,1108 585.33,1084 806.67,1084 806.67,1108 585.33,1108"/>
<text transform="translate(0 1100) scale(1 0.6)" x="589 593 597" y="0">...</text>
<polygon fill="#ffffff" points="585.33,1132 585.33,1108 657.33,1108 657.33,1132 585.33,1132"/>
<polygon class="b" points="585.33,1132 585.33,1108 657.33,1108 657.33,1132 585.33,1132"/>
<text x="589 598 602 610" y="1124">&lt; 20</text>
<polygon fill="#ffffff" points="657.33,1132 657.33,1108 770.67,1108 770.67,1132 657.33,1132"/>
<polygon class="b" points="657.33,1132 657.33,1108 770.67,1108 770.67,1132 657.33,1132"/>
<text x="679 687 695 703 707 715 723 731 735 740 748 759" y="1124">227,907 rows</text>
<polygon fill="#ffffff" points="770.67,1132 770.67,1108 806.67,1108 806.67,1132 770.67,1132"/>
<polygon class="b" points="770.67,1132 770.67,1108 806.67,1108 806.67,1132 770.67,1132"/>
<text x="793 797" y="1124">  </text>
<path class="b" d="M565.57,812.07 C511.63,859.69 591.52,1145.51 530.67,1198.67 492.96,1231.61 351.37,1218.36 305.33,1198.67 272.2,1184.48 285.37,1140 249.33,1140"/>
<polygon class="a" points="573.99,809 582.35,800.83 578.99,807.16 584,805.33 584,805.33 584,805.33 578.99,807.16 585.65,809.84 573.99,809 573.99,809"/>
<circle class="b" cx="569.97" cy="810.45" r="4.27"/>
<path class="b" d="M565.73,900.16 C503.59,955.45 604.57,1328 514,1328"/>
<polygon class="a" points="574.01,897.07 582.32,888.84 579,895.2 584,893.33 584,893.33 584,893.33 579,895.2 585.68,897.83 574.01,897.07 574.01,897.07"/>
<circle class="b" cx="570.01" cy="898.56" r="4.27"/>
<path class="b" d="M564.87,661.32 C474.85,690.23 643.76,945.33 520.67,945.33"/>
<polygon class="a" points="573.44,660.13 583.35,653.91 578.72,659.4 584,658.67 584,658.67 584,658.67 578.72,659.4 584.65,663.43 573.44,660.13 573.44,660.13"/>
<circle class="b" cx="569.21" cy="660.72" r="4.27"/>
<polygon fill="#ffffff" points="588,1853.33 588,1160 804,1160 804,1853.33 588,1853.33"/>
<polygon fill="#f5f5f5" points="588,1189.33 588,1160 804,1160 804,1189.33 588,1189.33"/>
<polygon class="b" points="588,1189.33 588,1160 804,1160 804,1189.33 588,1189.33"/>
<text class="B" x="595 601 609 617 625 634 638 646 654 663" y="1177">rsv_pickup</text>
<text x="757 761 765 773 781 784 792" y="1178">[table]</text>
<polygon fill="#ffffff" points="588,1218.67 588,1189.33 804,1189.33 804,1218.67 588,1218.67"/>
<polygon class="b" points="588,1218.67 588,1189.33 804,1189.33 804,1218.67 588,1218.67"/>
<use href="#pk" x="602" y="1204.15"/>
<text x="615 618" y="1208">id</text>
<polygon fill="#ffffff" points="588,1248 588,1218.67 804,1218.67 804,1248 588,1248"/>
<polygon class="b" points="588,1248 588,1218.67 804,1218.67 804,1248 588,1248"/>
<text x="615 623 631 635 643 651 656 664" y="1237">date_ref</text>
<polygon fill="#ffffff" points="588,1277.33 588,1248 804,1248 804,1277.33 588,1277.33"/>
<polygon class="b" points="588,1277.33 588,1248 804,1248 804,1277.33 588,1277.33"/>
<text x="615 622 626 634 638 646" y="1266">status</text>
<polygon fill="#ffffff" points="588,1306.67 588,1277.33 804,1277.33 804,1306.67 588,1306.67"/>
<polygon class="b" points="588,1306.67 588,1277.33 804,1277.33 804,1306.67 588,1306.67"/>
<text x="615 623 631 639 646 649 657 665 673 676 680 688" y="1296">booking_item</text>
<polygon fill="#ffffff" points="588,1336 588,1306.67 804,1306.67 804,1336 588,1336"/>
<polygon class="b" points="588,1336 588,1306.67 804,1306.67 804,1336 588,1336"/>
<use href="#fk" x="602" y="1321.48"/>
<text x="615 620 628 636 648 652 659 667 675 683 686" y="1325">roomtype_id</text>
<polygon fill="#ffffff" points="588,1365.33 588,1336 804,1336 804,1365.33 588,1365.33"/>
<polygon class="b" points="588,1365.33 588,1336 804,1336 804,1365.33 588,1365.33"/>
<use href="#fk" x="602" y="1350.82"/>
<text x="615 623 631 639 643 650 658 666 674 677" y="1354">bedtype_id</text>
<polygon fill="#ffffff" points="588,1394.67 588,1365.33 804,1365.33 804,1394.67 588,1394.67"/>
<polygon class="b" points="588,1394.67 588,1365.33 804,1365.33 804,1394.67 588,1394.67"/>
<use href="#fk" x="602" y="1380.15"/>
<text x="615 620 628 632 640 648 651 659 667 675 678" y="1384">rateplan_id</text>
<polygon fill="#ffffff" points="588,1424 588,1394.67 804,1394.67 804,1424 588,1424"/>
<polygon class="b" points="588,1424 588,1394.67 804,1394.67 804,1424 588,1424"/>
<use href="#fk" x="602" y="1409.48"/>
<text x="615 627 635 643 646 650 657 665 673 681 684" y="1413">mealtype_id</text>
<polygon fill="#ffffff" points="588,1453.33 588,1424 804,1424 804,1453.33 588,1453.33"/>
<polygon class="b" points="588,1453.33 588,1424 804,1424 804,1453.33 588,1453.33"/>
<use href="#fk" x="602" y="1438.82"/>
<text x="615 623 628 636 648 656 660 663 671 679 687 690" y="1442">promotion_id</text>
<polygon fill="#ffffff" points="588,1482.67 588,1453.33 804,1453.33 804,1482.67 588,1482.67"/>
<polygon class="b" points="588,1482.67 588,1453.33 804,1453.33 804,1482.67 588,1482.67"/>
<use href="#fk" x="602" y="1468.15"/>
<text x="615 622 630 638 646 654 662 665 673 676" y="1472">channel_id</text>
<polygon fill="#ffffff" points="588,1512 588,1482.67 804,1482.67 804,1512 588,1512"/>
<polygon class="b" points="588,1512 588,1482.67 804,1482.67 804,1512 588,1512"/>
<use href="#fk" x="602" y="1497.48"/>
<text x="615 623 628 631 639 642 650 658 661" y="1501">origin_id</text>
<polygon fill="#ffffff" points="588,1541.33 588,1512 804,1512 804,1541.33 588,1541.33"/>
<polygon class="b" points="588,1541.33 588,1512 804,1512 804,1541.33 588,1541.33"/>
<use href="#fk" x="602" y="1526.82"/>
<text x="615 622 630 633 641 648 656 659" y="1530">sales_id</text>
<polygon fill="#ffffff" points="588,1570.67 588,1541.33 804,1541.33 804,1570.67 588,1570.67"/>
<polygon class="b" points="588,1570.67 588,1541.33 804,1541.33 804,1570.67 588,1570.67"/>
<use href="#fk" x="602" y="1556.15"/>
<text x="615 627 635 640 647 655 659 667 670" y="1560">market_id</text>
<polygon fill="#ffffff" points="588,1600 588,1570.67 804,1570.67 804,1600 588,1600"/>
<polygon class="b" points="588,1600 588,1570.67 804,1570.67 804,1600 588,1600"/>
<use href="#fk" x="602" y="1585.48"/>
<text x="615 620 627 634 638 645 653 661 669 672" y="1589">rsvtype_id</text>
<polygon fill="#ffffff" points="588,1629.33 588,1600 804,1600 804,1629.33 588,1629.33"/>
<polygon class="b" points="588,1629.33 588,1600 804,1600 804,1629.33 588,1629.33"/>
<use href="#fk" x="602" y="1614.82"/>
<text x="615 623 631 639 646 650 658 666 674 678 681 689 697 705 708" y="1618">guest_nation_id</text>
<polygon fill="#ffffff" points="588,1658.67 588,1629.33 804,1629.33 804,1658.67 588,1658.67"/>
<polygon class="b" points="588,1658.67 588,1629.33 804,1629.33 804,1658.67 588,1658.67"/>
<use href="#fk" x="602" y="1644.15"/>
<text x="615 623 631 639 646 650 658 661 669 677 685 693 696" y="1648">guest_lang_id</text>
<polygon fill="#ffffff" points="588,1688 588,1658.67 804,1658.67 804,1688 588,1688"/>
<polygon class="b" points="588,1688 588,1658.67 804,1658.67 804,1688 588,1688"/>
<use href="#fk" x="602" y="1673.48"/>
<text x="615 623 631 639 646 650 658 665 673 681 689 693 698 705 713 716" y="1677">guest_country_id</text>
<polygon fill="#ffffff" points="588,1717.33 588,1688 804,1688 804,1717.33 588,1717.33"/>
<polygon class="b" points="588,1717.33 588,1688 804,1688 804,1717.33 588,1717.33"/>
<use href="#fk" x="602" y="1702.82"/>
<text x="615 623 631 639 646 650 658 665 673 681 689 693 698 705 713 718 726 733 741 744" y="1706">guest_country_res_id</text>
<polygon fill="#ffffff" points="588,1746.67 588,1717.33 804,1717.33 804,1746.67 588,1746.67"/>
<polygon class="b" points="588,1746.67 588,1717.33 804,1717.33 804,1746.67 588,1746.67"/>
<use href="#fk" x="602" y="1732.15"/>
<text x="615 623 631 639 646 650 658 665 668 672 679 687 690" y="1736">guest_city_id</text>
<polygon fill="#ffffff" points="588,1776 588,1746.67 804,1746.67 804,1776 588,1776"/>
<polygon class="b" points="588,1776 588,1746.67 804,1746.67 804,1776 588,1776"/>
<use href="#fk" x="602" y="1761.48"/>
<text x="615 623 631 639 646 650 658 666 673 680 688 696 704 708 711 719 727 735 738" y="1765">guest_occupation_id</text>
<polygon fill="#ffffff" points="588,1805.33 588,1776 804,1776 804,1805.33 588,1805.33"/>
<polygon class="b" points="588,1805.33 588,1776 804,1776 804,1805.33 588,1805.33"/>
<use href="#fk" x="602" y="1790.82"/>
<text x="615 623 631 639 646 650 658 665 668 676 684 687" y="1794">guest_vip_id</text>
<polygon class="b" points="588,1829.33 588,1805.33 804,1805.33 804,1829.33 588,1829.33"/>
<text transform="translate(0 1821) scale(1 0.6)" x="592 596 600" y="0">...</text>
<polygon fill="#ffffff" points="588,1853.33 588,1829.33 665.33,1829.33 665.33,1853.33 588,1853.33"/>
<polygon class="b" points="588,1853.33 588,1829.33 665.33,1829.33 665.33,1853.33 588,1853.33"/>
<text x="592 601 605 613" y="1845">&lt; 17</text>
<polygon fill="#ffffff" points="665.33,1853.33 665.33,1829.33 765.33,1829.33 765.33,1853.33 665.33,1853.33"/>
<polygon class="b" points="665.33,1853.33 665.33,1829.33 765.33,1829.33 765.33,1853.33 665.33,1853.33"/>
<text x="689 697 701 709 717 725 729 734 742 753" y="1845">2,856 rows</text>
<polygon fill="#ffffff" points="765.33,1853.33 765.33,1829.33 804,1829.33 804,1853.33 765.33,1853.33"/>
<polygon class="b" points="765.33,1853.33 765.33,1829.33 804,1829.33 804,1853.33 765.33,1853.33"/>
<text x="791 795" y="1845">  </text>
<path class="b" d="M567.44,1554.19 C475.32,1534.29 617.4,1356.33 530.67,1270.67 458.23,1199.12 389.59,1286.49 305.33,1229.33 266.56,1203.03 296.19,1140 249.33,1140"/>
<polygon class="a" points="576.05,1555 587.12,1551.23 581.36,1555.49 586.67,1556 586.67,1556 586.67,1556 581.36,1555.49 586.21,1560.77 576.05,1555 576.05,1555"/>
<circle class="b" cx="571.8" cy="1554.6" r="4.27"/>
<path class="b" d="M567.31,1612.01 C475.75,1583.11 637.99,1328 514,1328"/>
<polygon class="a" points="576.09,1613.21 587.32,1609.91 581.39,1613.95 586.67,1614.67 586.67,1614.67 586.67,1614.67 581.39,1613.95 586.01,1619.43 576.09,1613.21 576.09,1613.21"/>
<circle class="b" cx="571.87" cy="1612.64" r="4.27"/>
<path class="b" d="M568.48,1373.17 C506.92,1317.88 611.12,945.33 520.67,945.33"/>
<polygon class="a" points="576.68,1376.25 588.36,1375.51 581.68,1378.12 586.67,1380 586.67,1380 586.67,1380 581.68,1378.12 584.97,1384.49 576.68,1376.25 576.68,1376.25"/>
<circle class="b" cx="572.68" cy="1374.75" r="4.27"/>
</svg>
</body></html>
